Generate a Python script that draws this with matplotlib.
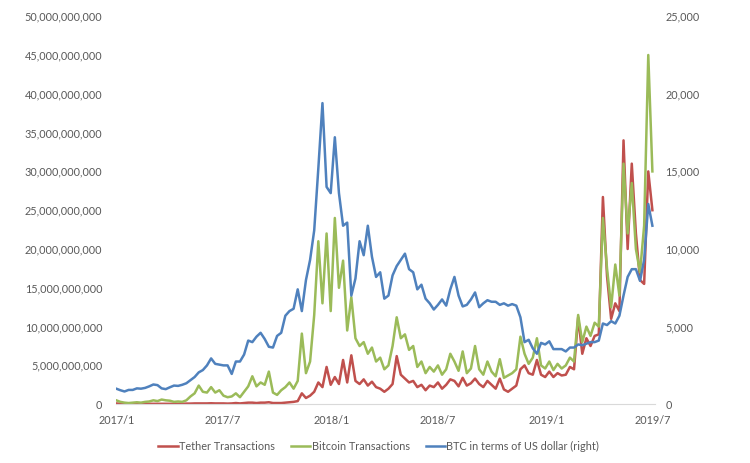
import numpy as np
import pandas as pd
import matplotlib
matplotlib.use("Agg")
import matplotlib.pyplot as plt
import matplotlib.dates as mdates
from matplotlib.ticker import FuncFormatter, MultipleLocator

plt.rcParams['font.family'] = ['Lato', 'DejaVu Sans']

# weekly samples, 2017/1/1 .. 2019/6/30
dates = pd.date_range("2017-01-01", "2019-06-30", freq="7D")

# BTC price, thousand USD (right axis)
btc_k = [1.00, 0.90, 0.82, 0.92, 0.92, 1.02, 1.00, 1.05, 1.15, 1.27, 1.23, 1.02, 0.97,
         1.09, 1.20, 1.18, 1.25, 1.35, 1.55, 1.75, 2.05, 2.20, 2.50, 2.95, 2.60, 2.55,
         2.50, 2.50, 1.95, 2.75, 2.75, 3.20, 4.10, 4.00, 4.35, 4.60, 4.20, 3.70, 3.65,
         4.40, 4.60, 5.70, 6.00, 6.15, 7.40, 6.00, 8.00, 9.30, 11.2, 15.2, 19.4, 14.0, 13.6,
         17.2, 13.6, 11.5, 11.7, 7.0, 8.1, 10.5, 9.6, 11.5, 9.5, 8.2, 8.5,
         6.8, 7.0, 8.3, 8.9, 9.3, 9.7, 8.7, 8.5, 7.4, 7.7, 6.8, 6.5, 6.1,
         6.4, 6.75, 6.35, 7.4, 8.2, 7.0, 6.3, 6.4, 6.75, 7.2, 6.25, 6.5, 6.7,
         6.6, 6.6, 6.4, 6.5, 6.35, 6.45, 6.35, 5.6, 4.0, 4.15, 3.6, 3.25, 3.95, 3.85,
         4.05, 3.55, 3.55, 3.55, 3.4, 3.65, 3.65, 3.85, 3.8, 3.9, 4.0, 4.0, 4.1,
         5.2, 5.1, 5.35, 5.2, 5.7, 7.0, 8.2, 8.7, 8.7, 7.95, 9.3, 12.9, 11.5]

# Bitcoin transactions, billion USD (left axis)
bitcoin_b = [0.5, 0.3, 0.2, 0.15, 0.2, 0.25, 0.2, 0.3, 0.35, 0.5, 0.4, 0.6, 0.5,
             0.45, 0.3, 0.35, 0.3, 0.5, 1.0, 1.4, 2.4, 1.6, 1.5, 2.2, 1.5, 1.8,
             1.1, 0.9, 1.0, 1.4, 0.9, 1.6, 2.3, 3.6, 2.3, 2.8, 2.5, 4.2, 1.5,
             1.2, 1.8, 2.2, 2.8, 2.0, 3.0, 9.1, 4.0, 5.5, 11.5, 21.0, 13.0, 22.0, 12.0,
             24.0, 15.0, 18.5, 9.5, 13.8, 8.5, 7.5, 8.0, 6.5, 7.3, 5.5, 6.0,
             4.5, 5.0, 7.5, 11.2, 8.5, 9.0, 7.0, 7.5, 4.8, 5.5, 4.0, 4.8, 4.2,
             5.0, 3.8, 4.5, 6.5, 5.5, 4.3, 6.8, 4.0, 4.6, 7.5, 4.5, 3.8, 5.5,
             4.2, 3.6, 5.8, 3.4, 3.7, 4.0, 4.5, 8.7, 6.5, 5.2, 6.0, 8.5, 5.0, 4.6,
             5.5, 4.4, 5.2, 4.6, 5.0, 6.0, 5.5, 11.5, 8.0, 10.0, 8.8, 10.5, 10.0,
             24.0, 17.5, 12.5, 18.0, 14.0, 31.0, 22.0, 28.5, 20.0, 17.0, 23.0, 45.0, 30.0]

# Tether transactions, billion USD (left axis)
tether_b = [0.1, 0.05, 0.05, 0.05, 0.05, 0.05, 0.05, 0.05, 0.05, 0.05, 0.05, 0.05, 0.05,
            0.05, 0.05, 0.05, 0.05, 0.08, 0.08, 0.1, 0.1, 0.1, 0.1, 0.12, 0.1, 0.1,
            0.1, 0.08, 0.1, 0.15, 0.1, 0.15, 0.2, 0.2, 0.15, 0.2, 0.2, 0.25, 0.15,
            0.15, 0.15, 0.2, 0.25, 0.3, 0.4, 1.4, 0.8, 1.1, 1.6, 2.8, 2.2, 4.8, 2.5,
            3.5, 2.6, 5.7, 2.8, 6.3, 3.0, 2.6, 3.2, 2.4, 2.9, 2.2, 2.0,
            1.6, 2.0, 2.6, 6.2, 3.8, 3.3, 2.8, 3.0, 2.2, 2.5, 1.8, 2.4, 2.2,
            2.8, 2.0, 2.5, 3.2, 3.0, 2.3, 3.4, 2.4, 2.7, 3.3, 2.6, 2.2, 3.0,
            2.5, 2.0, 3.3, 1.9, 1.6, 2.0, 2.4, 4.5, 5.0, 4.0, 3.8, 5.7, 3.8, 3.5,
            4.2, 3.5, 4.0, 3.7, 3.8, 4.8, 4.5, 11.2, 6.5, 8.5, 7.5, 8.8, 9.0,
            26.7, 16.5, 11.0, 13.0, 12.0, 34.0, 20.0, 31.0, 22.0, 16.0, 15.5, 30.0, 25.0]

labels = ["Tether Transactions", "Bitcoin Transactions", "BTC in terms of US dollar (right)"]
red, green, blue = "#C0504D", "#9BBB59", "#4F81BD"
grey = "#595959"
fs = 7.8

fig = plt.figure(figsize=(7.5, 4.63), dpi=100)
ax = fig.add_axes([0.155, 0.127, 0.718, 0.838])
ax2 = ax.twinx()

l1, = ax.plot(dates, np.array(tether_b) * 1e9, color=red, lw=1.8)
l2, = ax.plot(dates, np.array(bitcoin_b) * 1e9, color=green, lw=1.8)
l3, = ax2.plot(dates, np.array(btc_k) * 1e3, color=blue, lw=1.8)

ax.set_xlim(pd.Timestamp("2017-01-01"), pd.Timestamp("2019-07-04"))
ax.set_ylim(0, 50e9)
ax2.set_ylim(0, 25000)
ax.yaxis.set_major_locator(MultipleLocator(5e9))
ax2.yaxis.set_major_locator(MultipleLocator(5000))
comma = FuncFormatter(lambda v, p: f"{v:,.0f}")
ax.yaxis.set_major_formatter(comma)
ax2.yaxis.set_major_formatter(comma)

ax.xaxis.set_major_locator(mdates.MonthLocator(bymonth=[1, 7]))
ax.xaxis.set_major_formatter(FuncFormatter(
    lambda v, p: f"{mdates.num2date(v).year}/{mdates.num2date(v).month}"))

for a in (ax, ax2):
    for s in a.spines.values():
        s.set_visible(False)
    a.tick_params(length=0, colors=grey, labelsize=fs)
ax.spines['bottom'].set_visible(True)
ax.spines['bottom'].set_color("#D9D9D9")
ax.tick_params(axis='y', pad=10)
ax.tick_params(axis='x', pad=8)
ax2.tick_params(axis='y', pad=7.5)

fig.legend([l1, l2, l3], labels, loc='center', bbox_to_anchor=(0.505, 0.036),
           ncol=3, frameon=False, fontsize=fs, labelcolor=grey,
           handlelength=1.8, handletextpad=0.1, columnspacing=1.5)

fig.savefig("out.png", dpi=100)
